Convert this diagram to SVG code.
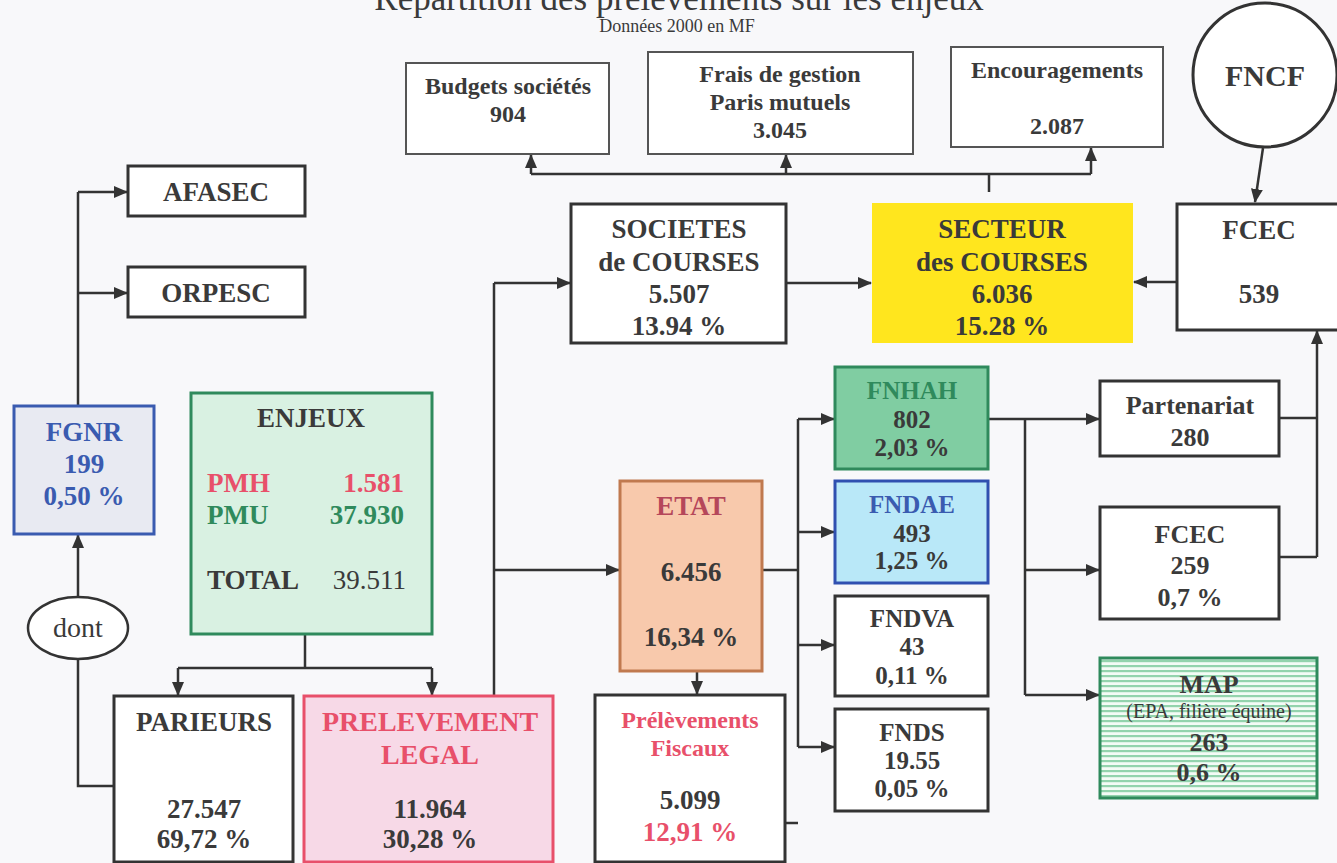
<svg xmlns="http://www.w3.org/2000/svg" width="1337" height="863" viewBox="0 0 1337 863" font-family="'Liberation Serif', 'Times New Roman', 'DejaVu Serif', serif">
<style>
text{font-family:'Liberation Serif','Times New Roman','DejaVu Serif',serif}
.t{font-weight:bold;text-anchor:middle;fill:#3a3a3a}
.r{font-weight:normal;text-anchor:middle;fill:#3a3a3a}
.L{font-size:27px}
.M{font-size:26px}
.S{font-size:24px}
.F{font-size:25px}
.box{fill:#fff;stroke:#333;stroke-width:3}
.thin{fill:#fff;stroke:#555;stroke-width:2}
.c{fill:none;stroke:#333;stroke-width:2.5}
.ca{fill:none;stroke:#333;stroke-width:2.5;marker-end:url(#ah)}
.red{fill:#e8506a}
.grn{fill:#2f8a5c}
.blu{fill:#3a5bb0}
</style>
<defs>
<marker id="ah" viewBox="0 0 14 12" refX="13" refY="6" markerWidth="14" markerHeight="12" markerUnits="userSpaceOnUse" orient="auto">
<path d="M0,0 L14,6 L0,12 Z" fill="#333"/>
</marker>
<pattern id="stripes" width="6" height="5" patternUnits="userSpaceOnUse">
<rect width="6" height="5" fill="#f4fbf6"/>
<rect y="0" width="6" height="2.2" fill="#93d3ad"/>
</pattern>
</defs>
<rect width="1337" height="863" fill="#f8f8fa"/>
<text x="679" y="10" class="r" font-size="35">Répartition des prélèvements sur les enjeux</text>
<text x="677" y="32" class="r" font-size="18">Données 2000 en MF</text>

<g id="connectors">
<path class="c" d="M531 174 H1091 M989 174 V192"/>
<path class="ca" d="M531 174 V155"/>
<path class="ca" d="M786 174 V155"/>
<path class="ca" d="M1091 174 V148"/>
<path class="c" d="M78 406 V192"/>
<path class="ca" d="M78 192 H127"/>
<path class="ca" d="M78 293 H127"/>
<path class="ca" d="M78 597 V535"/>
<path class="c" d="M114 786 H78 V659"/>
<path class="c" d="M305 634 V668 M178 668 H432"/>
<path class="ca" d="M178 668 V695"/>
<path class="ca" d="M432 668 V695"/>
<path class="c" d="M494 696 V283"/>
<path class="ca" d="M494 283 H570"/>
<path class="ca" d="M494 570 H619"/>
<path class="ca" d="M786 283 H871"/>
<path class="ca" d="M1177 282 H1134"/>
<path class="ca" d="M1263 148 L1255 202"/>
<path class="c" d="M762 570 H798 M798 419 V747"/>
<path class="ca" d="M798 419 H834"/>
<path class="ca" d="M798 532 H834"/>
<path class="ca" d="M798 645 H834"/>
<path class="ca" d="M798 747 H834"/>
<path class="ca" d="M697 672 V694"/>
<path class="c" d="M785 823 H798"/>
<path class="c" d="M989 419 H1025 M1025 419 V695"/>
<path class="ca" d="M1025 419 H1099"/>
<path class="ca" d="M1025 570 H1099"/>
<path class="ca" d="M1025 695 H1099"/>
<path class="c" d="M1279 418 H1317 M1279 557 H1317"/>
<path class="ca" d="M1317 557 V331"/>
</g>

<g id="budgets"><rect x="406" y="63" width="203" height="91" class="thin"/>
<text x="508" y="94" class="t S">Budgets sociétés</text><text x="508" y="122" class="t S">904</text></g>
<g id="frais"><rect x="648" y="52" width="265" height="102" class="thin"/>
<text x="780" y="82" class="t S">Frais de gestion</text><text x="780" y="110" class="t S">Paris mutuels</text><text x="780" y="138" class="t S">3.045</text></g>
<g id="encouragements"><rect x="951" y="47" width="212" height="100" class="thin"/>
<text x="1057" y="78" class="t S">Encouragements</text><text x="1057" y="134" class="t S">2.087</text></g>
<g id="fncf"><circle cx="1265" cy="75" r="72" fill="#fff" stroke="#333" stroke-width="3"/>
<text x="1265" y="86" class="t" font-size="30">FNCF</text></g>

<g id="afasec"><rect x="128" y="166" width="177" height="50" class="box"/>
<text x="216" y="201" class="t" font-size="27">AFASEC</text></g>
<g id="orpesc"><rect x="128" y="267" width="177" height="50" class="box"/>
<text x="216" y="302" class="t" font-size="27">ORPESC</text></g>

<g id="fgnr"><rect x="14" y="406" width="140" height="128" fill="#e8eaf2" stroke="#3a5bb0" stroke-width="3"/>
<text x="84" y="441" class="t L blu">FGNR</text><text x="84" y="473" class="t L blu">199</text><text x="84" y="505" class="t L blu">0,50 %</text></g>

<g id="dont"><ellipse cx="78" cy="628" rx="50" ry="31" fill="#fff" stroke="#333" stroke-width="2.5"/>
<text x="78" y="637" class="r" font-size="28">dont</text></g>

<g id="enjeux"><rect x="191" y="393" width="241" height="241" fill="#d9f1e2" stroke="#2f8a5c" stroke-width="3"/>
<text x="311" y="427" class="t L">ENJEUX</text>
<text x="207" y="492" class="t L red" style="text-anchor:start">PMH</text>
<text x="404" y="492" class="t L red" style="text-anchor:end">1.581</text>
<text x="207" y="524" class="t L grn" style="text-anchor:start">PMU</text>
<text x="404" y="524" class="t L grn" style="text-anchor:end">37.930</text>
<text x="207" y="589" class="t L" style="text-anchor:start">TOTAL</text>
<text x="406" y="589" class="r L" style="text-anchor:end">39.511</text></g>

<g id="parieurs"><rect x="114" y="696" width="179" height="166" class="box"/>
<text x="204" y="731" class="t L">PARIEURS</text><text x="204" y="818" class="t L">27.547</text><text x="204" y="848" class="t L">69,72 %</text></g>

<g id="prelevement"><rect x="304" y="696" width="249" height="166" fill="#f7d9e7" stroke="#e8506a" stroke-width="3"/>
<text x="430" y="731" class="t red" font-size="28">PRELEVEMENT</text><text x="430" y="764" class="t red" font-size="28">LEGAL</text>
<text x="430" y="818" class="t L">11.964</text><text x="430" y="848" class="t L">30,28 %</text></g>

<g id="societes"><rect x="571" y="204" width="215" height="139" class="box"/>
<text x="679" y="238" class="t L">SOCIETES</text><text x="679" y="271" class="t L">de COURSES</text>
<text x="679" y="303" class="t L">5.507</text><text x="679" y="335" class="t L">13.94 %</text></g>

<g id="secteur"><rect x="872" y="203" width="261" height="140" fill="#ffe61e"/>
<text x="1002" y="238" class="t L">SECTEUR</text><text x="1002" y="271" class="t L">des COURSES</text>
<text x="1002" y="303" class="t L">6.036</text><text x="1002" y="335" class="t L">15.28 %</text></g>

<g id="fcec-top"><rect x="1177" y="204" width="162" height="126" class="box"/>
<text x="1259" y="239" class="t L">FCEC</text><text x="1259" y="303" class="t L">539</text></g>

<g id="etat"><rect x="620" y="481" width="142" height="190" fill="#f8c9ac" stroke="#c0794f" stroke-width="3"/>
<text x="691" y="515" class="t L" style="fill:#b5475a">ETAT</text>
<text x="691" y="581" class="t L">6.456</text><text x="691" y="646" class="t L">16,34 %</text></g>

<g id="prelevements-fiscaux"><rect x="595" y="695" width="190" height="167" class="box"/>
<text x="690" y="728" class="t S red">Prélèvements</text><text x="690" y="756" class="t S red">Fiscaux</text>
<text x="690" y="809" class="t L">5.099</text><text x="690" y="841" class="t L red">12,91 %</text></g>

<g id="fnhah"><rect x="835" y="367" width="153" height="102" fill="#80cda2" stroke="#2f8a5c" stroke-width="3"/>
<text x="912" y="399" class="t F" style="fill:#2f8a5c">FNHAH</text><text x="912" y="428" class="t F">802</text><text x="912" y="456" class="t F">2,03 %</text></g>
<g id="fndae"><rect x="835" y="481" width="153" height="102" fill="#b9e8f8" stroke="#3050b0" stroke-width="3"/>
<text x="912" y="513" class="t F blu">FNDAE</text><text x="912" y="542" class="t F">493</text><text x="912" y="569" class="t F">1,25 %</text></g>
<g id="fndva"><rect x="835" y="596" width="153" height="100" class="box"/>
<text x="912" y="627" class="t F">FNDVA</text><text x="912" y="655" class="t F">43</text><text x="912" y="684" class="t F">0,11 %</text></g>
<g id="fnds"><rect x="835" y="709" width="153" height="102" class="box"/>
<text x="912" y="741" class="t F">FNDS</text><text x="912" y="769" class="t F">19.55</text><text x="912" y="797" class="t F">0,05 %</text></g>

<g id="partenariat"><rect x="1100" y="381" width="179" height="75" class="box"/>
<text x="1190" y="414" class="t M">Partenariat</text><text x="1190" y="446" class="t M">280</text></g>
<g id="fcec-259"><rect x="1100" y="507" width="179" height="112" class="box"/>
<text x="1190" y="543" class="t M">FCEC</text><text x="1190" y="574" class="t M">259</text><text x="1190" y="606" class="t M">0,7 %</text></g>
<g id="map"><rect x="1100" y="658" width="217" height="140" fill="url(#stripes)" stroke="#2f8a5c" stroke-width="3"/>
<text x="1209" y="693" class="t M">MAP</text>
<text x="1209" y="718" class="r" font-size="20">(EPA, filière équine)</text>
<text x="1209" y="751" class="t M">263</text><text x="1209" y="781" class="t M">0,6 %</text></g>
</svg>
